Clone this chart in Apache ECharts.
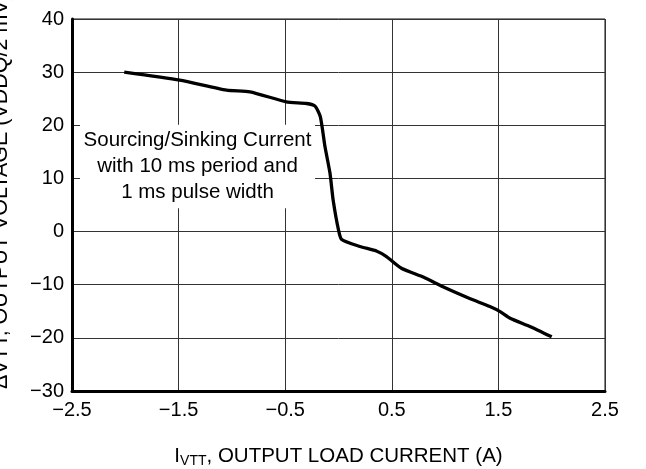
<!DOCTYPE html>
<html><head><meta charset="utf-8">
<script src="https://cdn.jsdelivr.net/npm/echarts@6/dist/echarts.min.js"></script>
<style>html,body{margin:0;padding:0;background:#fff}#c{width:646px;height:469px}</style>
</head><body><div id="c"></div>
<script>
const currentA = [-2.01,-1.49,-1.05,-0.83,-0.49,-0.30,-0.22,-0.17,-0.127,-0.08,-0.05,0.0,0.03,0.20,0.36,0.45,0.59,0.80,0.98,1.23,1.42,1.52,1.61,1.80,2.0];
const voltageMv = [30.0,28.5,26.6,26.3,24.4,24.1,23.6,21.6,16.0,11.0,5.9,0.3,-1.5,-2.8,-3.7,-4.7,-6.9,-8.6,-10.4,-12.6,-14.1,-15.1,-16.3,-17.9,-19.8];
const xTicks = [-2.5,-1.5,-0.5,0.5,1.5,2.5];
const yTicks = [-30,-20,-10,0,10,20,30,40];
const noteLines = ['Sourcing/Sinking Current','with 10 ms period and','1 ms pulse width'];
const noteBox = [[-2.425, 20.1], [-0.22, 4.4]];

const fmt = v => (v < 0 ? '\u2212' + Math.abs(v) : String(v));
const chart = echarts.init(document.getElementById('c'), null, {renderer:'canvas'});
const font = 'Liberation Sans, Arial, sans-serif';
chart.setOption({
  animation:false,
  grid:{left:72,right:41,top:19,bottom:78,show:true,borderColor:'#111',borderWidth:1,containLabel:false,outerBoundsMode:'none'},
  xAxis:{type:'value',min:-2.5,max:2.5,interval:1,
    axisLine:{show:true,onZero:false,lineStyle:{color:'#000',width:3}},
    axisTick:{show:false},
    splitLine:{show:true,lineStyle:{color:'#333',width:1}},
    axisLabel:{color:'#000',fontSize:20,fontFamily:font,margin:9,formatter:fmt,showMinLabel:true,showMaxLabel:true},
    name:'I{sub|VTT}, OUTPUT LOAD CURRENT (A)',nameLocation:'middle',nameGap:53,
    nameTextStyle:{color:'#000',fontSize:20.5,fontFamily:font,rich:{sub:{fontSize:14,fontFamily:font,color:'#000',verticalAlign:'bottom',padding:[10,0,0,0]}}}
  },
  yAxis:{type:'value',min:-30,max:40,interval:10,
    axisLine:{show:true,onZero:false,lineStyle:{color:'#000',width:3}},
    axisTick:{show:false},
    splitLine:{show:true,lineStyle:{color:'#333',width:1}},
    axisLabel:{color:'#000',fontSize:20,fontFamily:font,margin:8,formatter:fmt},
    name:'\u0394VTT, OUTPUT VOLTAGE (VDDQ/2 mV)',nameLocation:'middle',nameGap:60,
    nameTextStyle:{color:'#000',fontSize:21.5,fontFamily:font,padding:[0,0,0,28]}
  },
  series:[{
    type:'line',data:currentA.map((x,i)=>[x,voltageMv[i]]),
    showSymbol:false,smooth:0.2,z:5,
    lineStyle:{color:'#000',width:3.3},
    markArea:{silent:true,z:3,
      itemStyle:{color:'#fff',opacity:1},
      label:{show:true,position:'inside',color:'#000',fontSize:20.5,fontFamily:font,lineHeight:26,align:'center',
        formatter:noteLines.join('\n')},
      data:[[{coord:noteBox[0]},{coord:noteBox[1]}]]
    }
  }]
});
</script></body></html>
